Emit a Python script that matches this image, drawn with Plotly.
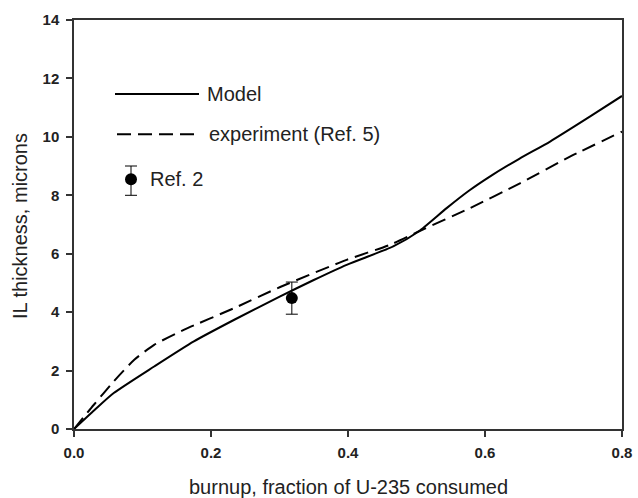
import plotly.graph_objects as go

# Model curve (solid)
model_x = [0, 0.03, 0.058, 0.117, 0.175, 0.234, 0.301, 0.35, 0.398, 0.466, 0.503, 0.544, 0.578, 0.607, 0.65, 0.695, 0.753, 0.8]
model_y = [0, 0.65, 1.23, 2.14, 3.0, 3.74, 4.54, 5.1, 5.62, 6.25, 6.76, 7.56, 8.18, 8.64, 9.25, 9.84, 10.69, 11.4]

# Experiment curve (Ref. 5, dashed)
exp_x = [0, 0.029, 0.058, 0.088, 0.117, 0.161, 0.234, 0.301, 0.398, 0.461, 0.503, 0.578, 0.651, 0.724, 0.8]
exp_y = [0, 0.83, 1.63, 2.37, 2.88, 3.4, 4.14, 4.86, 5.79, 6.3, 6.76, 7.56, 8.41, 9.32, 10.18]

# Ref. 2 data point
ref2_x = [0.318]
ref2_y = [4.48]
ref2_err = [0.55]

x_ticks = [0.0, 0.2, 0.4, 0.6, 0.8]
y_ticks = [0, 2, 4, 6, 8, 10, 12, 14]

FONT = "Liberation Sans, Arial, sans-serif"
AX = "#333333"

fig = go.Figure()
fig.add_trace(go.Scatter(x=model_x, y=model_y, mode="lines", name="Model",
                         line=dict(color="black", width=2, shape="spline", smoothing=0.6)))
fig.add_trace(go.Scatter(x=exp_x, y=exp_y, mode="lines", name="experiment (Ref. 5)",
                         line=dict(color="black", width=2, dash="14px,7px", shape="spline", smoothing=0.6)))
fig.add_trace(go.Scatter(x=ref2_x, y=ref2_y, mode="markers", name="Ref. 2",
                         marker=dict(color="black", size=12),
                         error_y=dict(type="data", array=ref2_err, color="black", thickness=1, width=6)))

L, R, T, B = 74, 16, 20, 69
PW = 638 - L - R
PH = 498 - T - B

# custom legend (paper coordinates from pixel positions)
def px(x):
    return (x - L) / PW

def py(y):
    return (T + PH - y) / PH

shapes = [
    dict(type="line", xref="paper", yref="paper", x0=px(115), x1=px(199), y0=py(94), y1=py(94),
         line=dict(color="black", width=2)),
    dict(type="line", xref="paper", yref="paper", x0=px(117), x1=px(195), y0=py(134.3), y1=py(134.3),
         line=dict(color="black", width=2, dash="14px,7px")),
    dict(type="line", xref="paper", yref="paper", x0=px(131), x1=px(131), y0=py(166), y1=py(195.3),
         line=dict(color="black", width=1)),
    dict(type="line", xref="paper", yref="paper", x0=px(125), x1=px(137), y0=py(166), y1=py(166),
         line=dict(color="black", width=1)),
    dict(type="line", xref="paper", yref="paper", x0=px(125), x1=px(137), y0=py(195.3), y1=py(195.3),
         line=dict(color="black", width=1)),
    dict(type="circle", xref="paper", yref="paper", x0=px(125), x1=px(137), y0=py(185.3), y1=py(173.3),
         fillcolor="black", line=dict(color="black", width=0)),
]

annotations = [
    dict(text="Model", xref="paper", yref="paper", x=px(205), y=py(94), xanchor="left", yanchor="middle",
         showarrow=False, font=dict(family=FONT, size=20, color="#222")),
    dict(text="experiment (Ref. 5)", xref="paper", yref="paper", x=px(207), y=py(134.3), xanchor="left",
         yanchor="middle", showarrow=False, font=dict(family=FONT, size=20, color="#222")),
    dict(text="Ref. 2", xref="paper", yref="paper", x=px(148), y=py(179.3), xanchor="left", yanchor="middle",
         showarrow=False, font=dict(family=FONT, size=20, color="#222")),
    dict(text="burnup, fraction of U-235 consumed", xref="paper", yref="paper", x=px(348), y=py(487),
         xanchor="center", yanchor="middle", showarrow=False, font=dict(family=FONT, size=20, color="#222")),
    dict(text="IL thickness, microns", xref="paper", yref="paper", x=px(20), y=py(226),
         xanchor="center", yanchor="middle", textangle=-90, showarrow=False,
         font=dict(family=FONT, size=20, color="#222")),
]

fig.update_layout(
    width=638, height=498,
    margin=dict(l=L, r=R, t=T, b=B, pad=0, autoexpand=False),
    paper_bgcolor="white", plot_bgcolor="white",
    showlegend=False,
    shapes=shapes, annotations=annotations,
    xaxis=dict(range=[0, 0.8], tickvals=x_ticks, ticktext=[f"{v:.1f}" for v in x_ticks],
               showgrid=False, zeroline=False, showline=True, linecolor=AX, linewidth=1.5,
               mirror=True, ticks="outside", ticklen=6, tickcolor=AX, tickwidth=1.5,
               ticklabelstandoff=3, automargin=False, ticklabeloverflow="allow",
               tickfont=dict(family=FONT, size=15, color="#222", weight="bold")),
    yaxis=dict(range=[0, 14], tickvals=y_ticks, ticktext=[str(v) for v in y_ticks],
               showgrid=False, zeroline=False, showline=True, linecolor=AX, linewidth=1.5,
               mirror=True, ticks="outside", ticklen=6, tickcolor=AX, tickwidth=1.5,
               ticklabelstandoff=4, automargin=False, ticklabeloverflow="allow",
               tickfont=dict(family=FONT, size=15, color="#222", weight="bold")),
)

fig.write_html("out.html", config={"displayModeBar": False},
               post_script="document.body.style.margin='0';document.body.style.overflow='hidden';")
